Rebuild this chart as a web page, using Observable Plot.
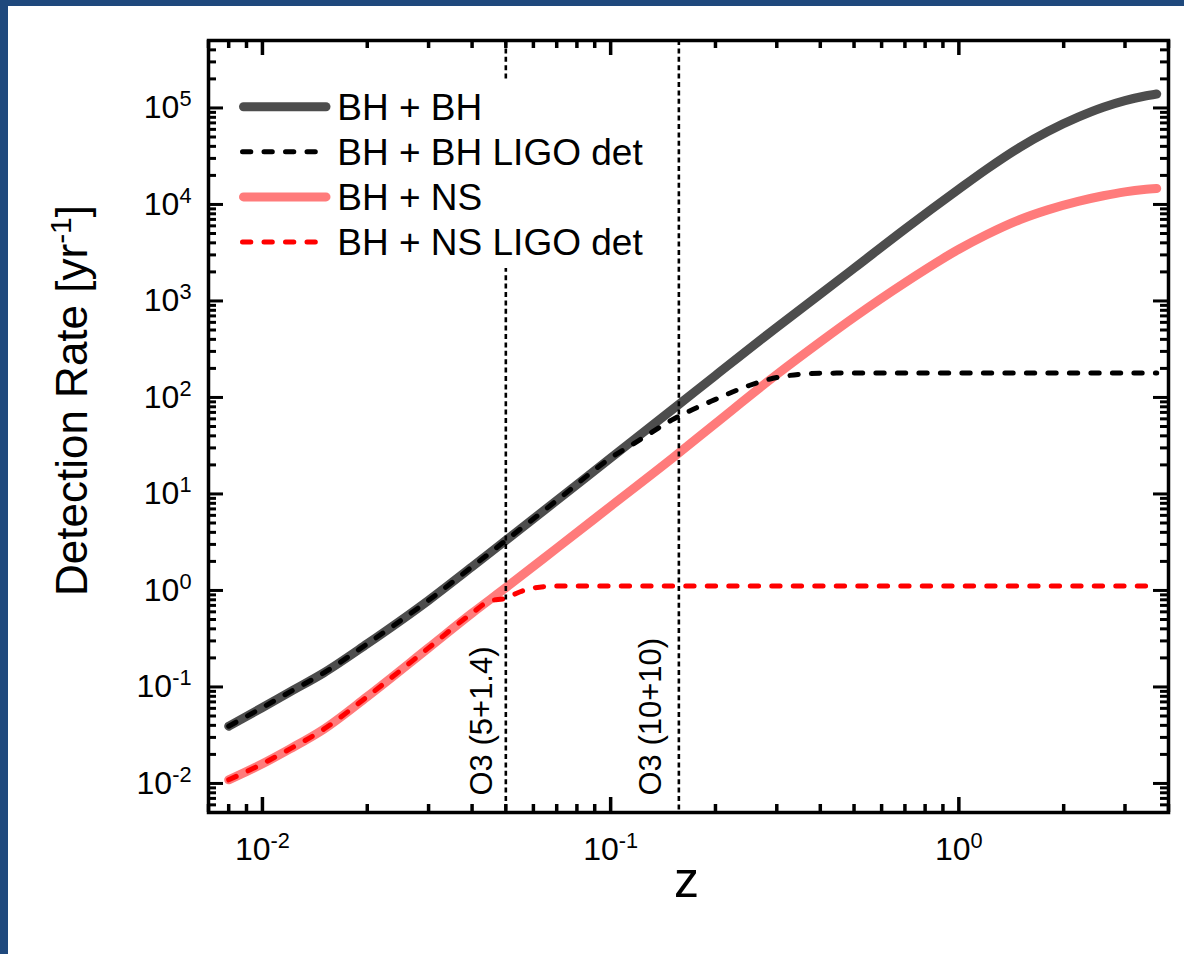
<!DOCTYPE html>
<html><head><meta charset="utf-8">
<script src="https://cdn.jsdelivr.net/npm/d3@7"></script>
<script src="https://cdn.jsdelivr.net/npm/@observablehq/plot@0.6"></script>
<style>
html,body{margin:0;padding:0;background:#fff;}
#wrap{position:relative;width:1184px;height:954px;overflow:hidden;background:#fff;}
#wrap > svg{position:absolute;left:0;top:0;}
#border{position:absolute;left:0;top:0;width:1184px;height:954px;border-top:6px solid #1f497d;border-left:8px solid #1f497d;box-sizing:border-box;pointer-events:none;}
svg text{font-family:"Liberation Sans",Arial,sans-serif;}
</style></head><body><div id="wrap"></div>
<script>
// ---- data ----
const zGrid = [0.008, 0.01, 0.012, 0.015, 0.02, 0.03, 0.04, 0.05, 0.07, 0.1, 0.15, 0.2, 0.3, 0.4, 0.5, 0.7, 1, 1.2, 1.5, 1.8, 2.2, 2.6, 3, 3.4, 3.7];
const rateBHBH = [0.0392, 0.0612, 0.0889, 0.140, 0.28, 0.79, 1.76, 3.30, 8.55, 23.6, 74.3, 169, 533, 1175, 2180, 5550, 14400, 23100, 39300, 57000, 80200, 101600, 119100, 132200, 139300];
const rateBHNS = [0.0109, 0.0160, 0.0228, 0.0365, 0.0794, 0.254, 0.582, 1.07, 2.74, 7.46, 23.3, 53.8, 173, 377, 676, 1545, 3430, 4850, 6980, 8780, 10750, 12300, 13500, 14300, 14650];
const zLigoBHBH = [0.008, 0.01, 0.012, 0.015, 0.02, 0.03, 0.04, 0.05, 0.07, 0.1, 0.12, 0.15, 0.2, 0.25, 0.3, 0.4, 0.5, 0.7, 1, 1.5, 2, 3, 3.7];
const rateLigoBHBH = [0.0392, 0.0612, 0.0889, 0.140, 0.28, 0.79, 1.76, 3.30, 8.55, 23.6, 35.5, 58.5, 95.5, 133, 161, 178, 179, 179, 179, 179, 179, 179, 179];
const zLigoBHNS = [0.008, 0.01, 0.012, 0.015, 0.02, 0.03, 0.04, 0.045, 0.05, 0.055, 0.06, 0.07, 0.1, 0.15, 0.2, 0.3, 0.5, 0.7, 1, 1.5, 2, 3, 3.7];
const rateLigoBHNS = [0.0109, 0.0160, 0.0228, 0.0365, 0.0794, 0.254, 0.582, 0.78, 0.83, 0.97, 1.06, 1.11, 1.11, 1.11, 1.11, 1.11, 1.11, 1.11, 1.11, 1.11, 1.11, 1.11, 1.11];

const seriesNames = ["BH + BH", "BH + BH LIGO det", "BH + NS", "BH + NS LIGO det"];
const seriesColors = ["#4d4d4d", "#000000", "#ff7b7b", "#ff0000"];
const seriesDashed = [false, true, false, true];

const o3Lines = [0.05, 0.157];
const o3Labels = ["O3 (5+1.4)", "O3 (10+10)"];

const xMajorTicks = [0.01, 0.1, 1];
const yMajorTicks = [1e-2, 1e-1, 1e0, 1e1, 1e2, 1e3, 1e4, 1e5];
const xDomain = [0.007, 4];
const yDomain = [0.005, 5e5];
const xLabel = "z";
const yLabel = "Detection Rate [yr^{-1}]";

// ---- layout ----
const W = 1184, H = 954;
const mL = 208, mR = 16, mT = 40, mB = 142;
const pw = W - mL - mR, ph = H - mT - mB;

function minorTicks([lo, hi]) {
  const out = [];
  for (let e = Math.floor(Math.log10(lo)); e <= Math.ceil(Math.log10(hi)); e++) {
    for (let m = 2; m <= 9; m++) {
      const v = m * Math.pow(10, e);
      if (v >= lo * 0.9999 && v <= hi * 1.0001) out.push(v);
    }
  }
  return out;
}
const xMinor = minorTicks(xDomain), yMinor = minorTicks(yDomain);
const powFmt = d => `10^{${Math.round(Math.log10(d))}}`;

const toRows = (zs, rs) => zs.map((z, i) => ({z, r: rs[i]}));
const lineBHBH = toRows(zGrid, rateBHBH);
const lineBHNS = toRows(zGrid, rateBHNS);
const lineLigoBHBH = toRows(zLigoBHBH, rateLigoBHBH);
const lineLigoBHNS = toRows(zLigoBHNS, rateLigoBHNS);

const dashSeries = "8.3,13.2";
const major = 15, minor = 8;

const svg = Plot.plot({
  width: W, height: H,
  marginLeft: mL, marginRight: mR, marginTop: mT, marginBottom: mB,
  style: {fontFamily: "Liberation Sans, Arial, sans-serif", fontSize: "32px", background: "transparent", color: "#000"},
  x: {type: "log", domain: xDomain},
  y: {type: "log", domain: yDomain},
  marks: [
    Plot.line(lineBHBH, {x: "z", y: "r", stroke: seriesColors[0], strokeWidth: 9, strokeLinecap: "round", strokeLinejoin: "round", curve: "monotone-x"}),
    Plot.line(lineBHNS, {x: "z", y: "r", stroke: seriesColors[2], strokeWidth: 9, strokeLinecap: "round", strokeLinejoin: "round", curve: "monotone-x"}),
    Plot.line(lineLigoBHBH, {x: "z", y: "r", stroke: seriesColors[1], strokeWidth: 5, strokeLinecap: "round", strokeDasharray: dashSeries, curve: "monotone-x"}),
    Plot.line(lineLigoBHNS, {x: "z", y: "r", stroke: seriesColors[3], strokeWidth: 5, strokeLinecap: "round", strokeDasharray: dashSeries, curve: "monotone-x"}),
    Plot.ruleX(o3Lines, {x: d => d, stroke: "#000", strokeWidth: 2.6, strokeDasharray: "5,3.4"}),
    Plot.text([o3Lines[0]], {x: d => d, frameAnchor: "bottom", text: () => o3Labels[0], rotate: -90, textAnchor: "start", lineAnchor: "bottom", dx: -14, dy: -17, fontSize: 31, fill: "#000"}),
    Plot.text([o3Lines[1]], {x: d => d, frameAnchor: "bottom", text: () => o3Labels[1], rotate: -90, textAnchor: "start", lineAnchor: "bottom", dx: -18, dy: -17, fontSize: 31, fill: "#000"}),
    // inward ticks on all four sides
    Plot.tickY(yMajorTicks, {y: d => d, insetRight: pw - major, stroke: "#000", strokeWidth: 3}),
    Plot.tickY(yMinor, {y: d => d, insetRight: pw - minor, stroke: "#000", strokeWidth: 3}),
    Plot.tickY(yMajorTicks, {y: d => d, insetLeft: pw - major, stroke: "#000", strokeWidth: 3}),
    Plot.tickY(yMinor, {y: d => d, insetLeft: pw - minor, stroke: "#000", strokeWidth: 3}),
    Plot.tickX(xMajorTicks, {x: d => d, insetTop: ph - major, stroke: "#000", strokeWidth: 3.5}),
    Plot.tickX(xMinor, {x: d => d, insetTop: ph - minor, stroke: "#000", strokeWidth: 3.5}),
    Plot.tickX(xMajorTicks, {x: d => d, insetBottom: ph - major, stroke: "#000", strokeWidth: 3.5}),
    Plot.tickX(xMinor, {x: d => d, insetBottom: ph - minor, stroke: "#000", strokeWidth: 3.5}),
    Plot.axisY({ticks: yMajorTicks, tickFormat: powFmt, tickSize: 0, tickPadding: 17, fontSize: 32, label: null}),
    Plot.axisX({ticks: xMajorTicks, tickFormat: powFmt, tickSize: 0, tickPadding: 25, fontSize: 32, label: null}),
    Plot.text([yLabel], {frameAnchor: "left", text: d => d, rotate: -90, dx: -135.3, dy: -26, fontSize: 44, textAnchor: "middle", lineAnchor: "middle", fill: "#000"}),
    Plot.text([xLabel], {frameAnchor: "bottom", text: d => d, dx: -2, dy: 49, fontSize: 50, textAnchor: "middle", lineAnchor: "top", fill: "#000"}),
    Plot.frame({stroke: "#000", strokeWidth: 3.5})
  ]
});

const wrap = document.getElementById("wrap");
wrap.appendChild(svg);

// ---- superscripts: "base^{sup}rest" ----
const NS = "http://www.w3.org/2000/svg";
function supify(root) {
  root.querySelectorAll("text").forEach(t => {
    const s = t.textContent;
    const m = s.match(/^(.*)\^\{(.*)\}(.*)$/);
    if (!m) return;
    const fs = parseFloat(getComputedStyle(t).fontSize) || 32;
    t.textContent = "";
    const a = document.createElementNS(NS, "tspan"); a.textContent = m[1]; t.appendChild(a);
    const b = document.createElementNS(NS, "tspan"); b.textContent = m[2];
    b.setAttribute("font-size", fs * 0.68); b.setAttribute("dy", -fs * 0.38); t.appendChild(b);
    if (m[3]) {
      const c = document.createElementNS(NS, "tspan"); c.textContent = m[3];
      c.setAttribute("dy", fs * 0.38); t.appendChild(c);
    }
  });
}
supify(svg);

// ---- legend (inside the plot, white box) ----
const leg = d3.select(wrap).append("svg").attr("width", W).attr("height", H)
  .style("position", "absolute").style("left", 0).style("top", 0).style("pointer-events", "none");
leg.append("rect").attr("x", 232).attr("y", 82).attr("width", 423).attr("height", 186).attr("fill", "#fff");
seriesNames.forEach((name, i) => {
  const cy = 106.7 + i * 45.1;
  if (seriesDashed[i]) {
    leg.append("line").attr("x1", 242.5).attr("x2", 316.5).attr("y1", cy).attr("y2", cy)
      .attr("stroke", seriesColors[i]).attr("stroke-width", 5).attr("stroke-linecap", "round")
      .attr("stroke-dasharray", dashSeries);
  } else {
    leg.append("line").attr("x1", 243.5).attr("x2", 326).attr("y1", cy).attr("y2", cy)
      .attr("stroke", seriesColors[i]).attr("stroke-width", 9).attr("stroke-linecap", "round");
  }
  leg.append("text").attr("x", 337.3).attr("y", cy + 13.2).attr("font-size", 37)
    .attr("fill", "#000").text(name);
});

const border = document.createElement("div");
border.id = "border";
wrap.appendChild(border);
</script>
</body></html>
